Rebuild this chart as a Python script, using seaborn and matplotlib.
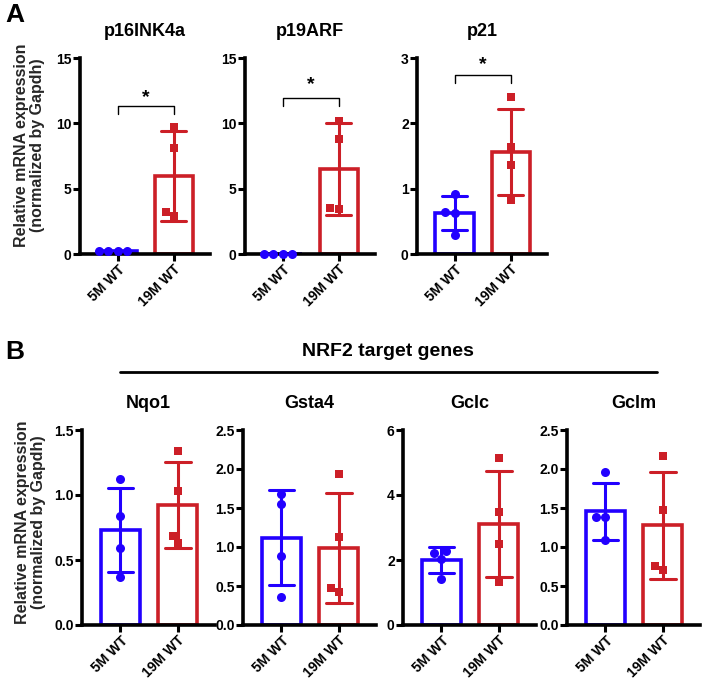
import matplotlib
matplotlib.use("Agg")
import matplotlib.pyplot as plt
from matplotlib.lines import Line2D
import numpy as np
import pandas as pd
import seaborn as sns

GROUPS = ["5M WT", "19M WT"]
BLUE = "#2200ff"
RED = "#cc1f27"
YLABEL = "Relative mRNA expression\n(normalized by Gapdh)"

# Panel A: senescence markers (individual mice)
p16_5m = [0.22, 0.24, 0.21, 0.23]
p16_19m = [9.7, 8.1, 2.9, 3.2]
p19_5m = [0.02, 0.03, 0.02, 0.03]
p19_19m = [10.2, 8.8, 3.45, 3.5]
p21_5m = [0.92, 0.65, 0.63, 0.29]
p21_19m = [2.41, 1.64, 1.36, 0.83]

# Panel B: NRF2 target genes
nqo1_5m = [1.12, 0.84, 0.595, 0.37]
nqo1_19m = [1.34, 1.03, 0.685, 0.63]
gsta4_5m = [1.68, 1.55, 0.89, 0.36]
gsta4_19m = [1.93, 1.13, 0.48, 0.42]
gclc_5m = [2.22, 2.29, 2.04, 1.43]
gclc_19m = [5.14, 3.49, 2.49, 1.32]
gclm_5m = [1.96, 1.39, 1.39, 1.09]
gclm_19m = [2.17, 1.47, 0.71, 0.76]

PANEL_A = [
    ("p16INK4a", p16_5m, p16_19m, [0, 5, 10, 15]),
    ("p19ARF", p19_5m, p19_19m, [0, 5, 10, 15]),
    ("p21", p21_5m, p21_19m, [0, 1, 2, 3]),
]
PANEL_B = [
    ("Nqo1", nqo1_5m, nqo1_19m, [0, 0.5, 1.0, 1.5]),
    ("Gsta4", gsta4_5m, gsta4_19m, [0, 0.5, 1.0, 1.5, 2.0, 2.5]),
    ("Gclc", gclc_5m, gclc_19m, [0, 2, 4, 6]),
    ("Gclm", gclm_5m, gclm_19m, [0, 0.5, 1.0, 1.5, 2.0, 2.5]),
]
# significance bracket (bar height, leg end, star height) for panel A, data units
SIG_A = [(11.3, 10.7, 12.0), (11.95, 11.3, 13.0), (2.74, 2.62, 2.9)]

W, H = 705, 682


def rect(x0, y_top, x1, y_bot):
    return [x0 / W, 1 - y_bot / H, (x1 - x0) / W, (y_bot - y_top) / H]


def draw_gene(ax, name, v5, v19, yticks, ylab_y=None):
    df = pd.DataFrame({
        "group": [GROUPS[0]] * len(v5) + [GROUPS[1]] * len(v19),
        "value": list(v5) + list(v19),
    })
    for grp, col, mk, ms in zip(GROUPS, [BLUE, RED], ["o", "s"], [6.5, 6]):
        sub = df[df["group"] == grp]
        sns.barplot(
            data=sub, x="group", y="value", order=GROUPS,
            color=col, fill=False, linewidth=2.6, width=0.68,
            errorbar="sd", capsize=0.45,
            err_kws={"color": col, "linewidth": 2.2}, ax=ax,
        )
        sns.swarmplot(
            data=sub, x="group", y="value", order=GROUPS,
            color=col, marker=mk, size=ms, linewidth=0, ax=ax,
            zorder=4, clip_on=False,
        )
    ax.set_xlim(-0.67, 1.65)
    ax.set_ylim(0, yticks[-1])
    ax.set_yticks(yticks)
    sns.despine(ax=ax)
    for s in ["left", "bottom"]:
        ax.spines[s].set_linewidth(2.6)
    ax.tick_params(width=2.2, length=5, labelsize=10, pad=1)
    ax.set_xticks(range(len(GROUPS)))
    ax.set_xticklabels(GROUPS, rotation=45, ha="right", rotation_mode="anchor",
                       fontsize=10)
    ax.set_xlabel("")
    ax.set_title(name, fontsize=13, fontweight="bold", pad=16)
    if ylab_y is not None:
        ax.set_ylabel(YLABEL, fontsize=11.5, fontweight="bold", linespacing=1.1)
        ax.yaxis.set_label_coords(-0.27, ylab_y)
    else:
        ax.set_ylabel("")


sns.set_theme(style="ticks")
plt.rcParams["font.family"] = ["Liberation Sans", "DejaVu Sans"]
plt.rcParams["font.weight"] = "bold"
plt.rcParams["axes.labelweight"] = "bold"
plt.rcParams["text.color"] = "black"
plt.rcParams["xtick.color"] = "black"
plt.rcParams["ytick.color"] = "black"
plt.rcParams["axes.edgecolor"] = "black"

fig = plt.figure(figsize=(W / 100, H / 100), dpi=100)

a_left = [80, 245, 417]
for i, ((name, v5, v19, yt), x0) in enumerate(zip(PANEL_A, a_left)):
    ax = fig.add_axes(rect(x0, 58, x0 + 130, 254))
    draw_gene(ax, name, v5, v19, yt, 0.555 if i == 0 else None)
    bar_y, leg_y, star_y = SIG_A[i]
    ax.plot([0, 0, 1, 1], [leg_y, bar_y, bar_y, leg_y], color="black",
            linewidth=1, clip_on=False)
    ax.text(0.5, star_y, "*", ha="center", va="center", fontsize=14,
            fontweight="bold", clip_on=False)

b_left = [82, 243, 403, 567]
for i, ((name, v5, v19, yt), x0) in enumerate(zip(PANEL_B, b_left)):
    ax = fig.add_axes(rect(x0, 430, x0 + 133, 625))
    draw_gene(ax, name, v5, v19, yt, 0.525 if i == 0 else None)

fig.text(15 / W, 1 - 15 / H, "A", fontsize=19, fontweight="bold",
         ha="center", va="center")
fig.text(15 / W, 1 - 352 / H, "B", fontsize=19, fontweight="bold",
         ha="center", va="center")
fig.add_artist(Line2D([120 / W, 657 / W], [1 - 372 / H, 1 - 372 / H],
                      color="black", linewidth=2, transform=fig.transFigure))
fig.text(388 / W, 1 - 352 / H, "NRF2 target genes", fontsize=14,
         fontweight="bold", ha="center", va="center")

fig.savefig("out.png", dpi=100, facecolor="white")
